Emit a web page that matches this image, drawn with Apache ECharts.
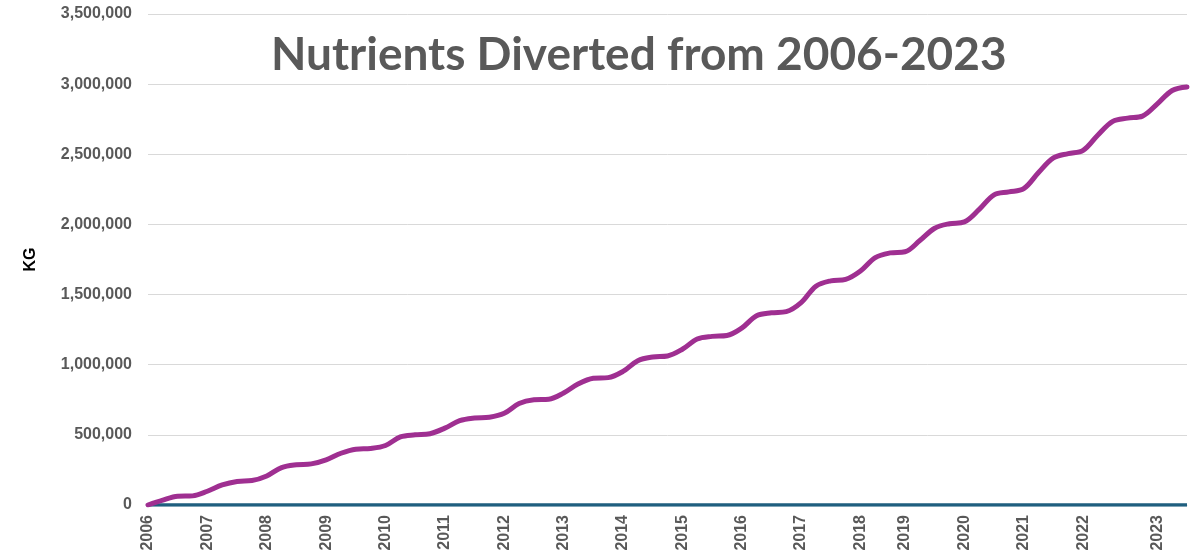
<!DOCTYPE html>
<html>
<head>
<meta charset="utf-8">
<title>Nutrients Diverted from 2006-2023</title>
<script src="https://cdn.jsdelivr.net/npm/echarts@6/dist/echarts.min.js"></script>
<style>
  html, body { margin: 0; padding: 0; background: #fff; }
  #chart { width: 1202px; height: 559px; }
</style>
</head>
<body>
<div id="chart"></div>
<script>
// quarterly periods, year shown at the first period of each year
const periods = [
  "2006", "", "", "",
  "2007", "", "", "",
  "2008", "", "", "",
  "2009", "", "", "",
  "2010", "", "", "",
  "2011", "", "", "",
  "2012", "", "", "",
  "2013", "", "", "",
  "2014", "", "", "",
  "2015", "", "", "",
  "2016", "", "", "",
  "2017", "", "", "",
  "2018", "", "",
  "2019", "", "", "",
  "2020", "", "", "",
  "2021", "", "", "",
  "2022", "", "", "", "",
  "2023", "", ""
];

// cumulative kg diverted
const diverted = [
  0, 35000, 62000, 65000,
  98000, 143000, 168000, 174000,
  207000, 267000, 287000, 293000,
  322000, 369000, 398000, 403000,
  424000, 485000, 500000, 508000,
  548000, 601000, 620000, 626000,
  654000, 723000, 750000, 754000,
  798000, 864000, 903000, 908000,
  952000, 1029000, 1055000, 1062000,
  1110000, 1183000, 1202000, 1208000,
  1261000, 1349000, 1370000, 1378000,
  1442000, 1560000, 1598000, 1608000,
  1668000, 1764000, 1797000,
  1805000, 1885000, 1973000, 2005000,
  2018000, 2107000, 2211000, 2232000,
  2255000, 2370000, 2474000, 2505000,
  2528000, 2638000, 2735000, 2758000, 2772000,
  2859000, 2955000, 2980000
];

// second series sits on zero the whole time
const baseline = periods.map(() => 0);

const yTicks = { min: 0, max: 3500000, interval: 500000 };

const chart = echarts.init(document.getElementById("chart"));

const option = {
  backgroundColor: "#ffffff",
  animation: false,
  title: {
    text: "Nutrients Diverted from 2006-2023",
    left: 266,
    top: 27,
    textStyle: {
      fontFamily: "Lato",
      fontWeight: "bold",
      fontSize: 46,
      color: "#595959",
    },
  },
  grid: { left: 148, right: 15, top: 14, bottom: 54 },
  xAxis: {
    type: "category",
    data: periods,
    boundaryGap: false,
    axisLine: { show: true, lineStyle: { color: "#d9d9d9" } },
    axisTick: { show: false },
    axisLabel: {
      interval: 0,
      rotate: 90,
      margin: 10,
      color: "#595959",
      fontFamily: "Liberation Sans",
      fontWeight: "bold",
      fontSize: 16,
    },
  },
  yAxis: {
    type: "value",
    min: yTicks.min,
    max: yTicks.max,
    interval: yTicks.interval,
    name: "KG",
    nameLocation: "middle",
    nameGap: 109,
    nameTextStyle: {
      fontFamily: "Liberation Sans",
      fontWeight: "bold",
      fontSize: 16,
      color: "#000000",
    },
    axisLine: { show: false },
    axisTick: { show: false },
    splitLine: { lineStyle: { color: "#d9d9d9", width: 1 } },
    axisLabel: {
      margin: 16,
      color: "#595959",
      fontFamily: "Liberation Sans",
      fontWeight: "bold",
      fontSize: 16,
      formatter: (v) => v.toLocaleString("en-US"),
    },
  },
  series: [
    {
      name: "Baseline",
      type: "line",
      data: baseline,
      showSymbol: false,
      lineStyle: { color: "#1f5f7f", width: 3.5 },
      z: 2,
    },
    {
      name: "Nutrients diverted",
      type: "line",
      data: diverted,
      smooth: 0.35,
      showSymbol: false,
      lineStyle: { color: "#9f2f91", width: 5, cap: "round" },
      z: 3,
    },
  ],
};

chart.setOption(option);
window.addEventListener("resize", () => chart.resize());
</script>
</body>
</html>
